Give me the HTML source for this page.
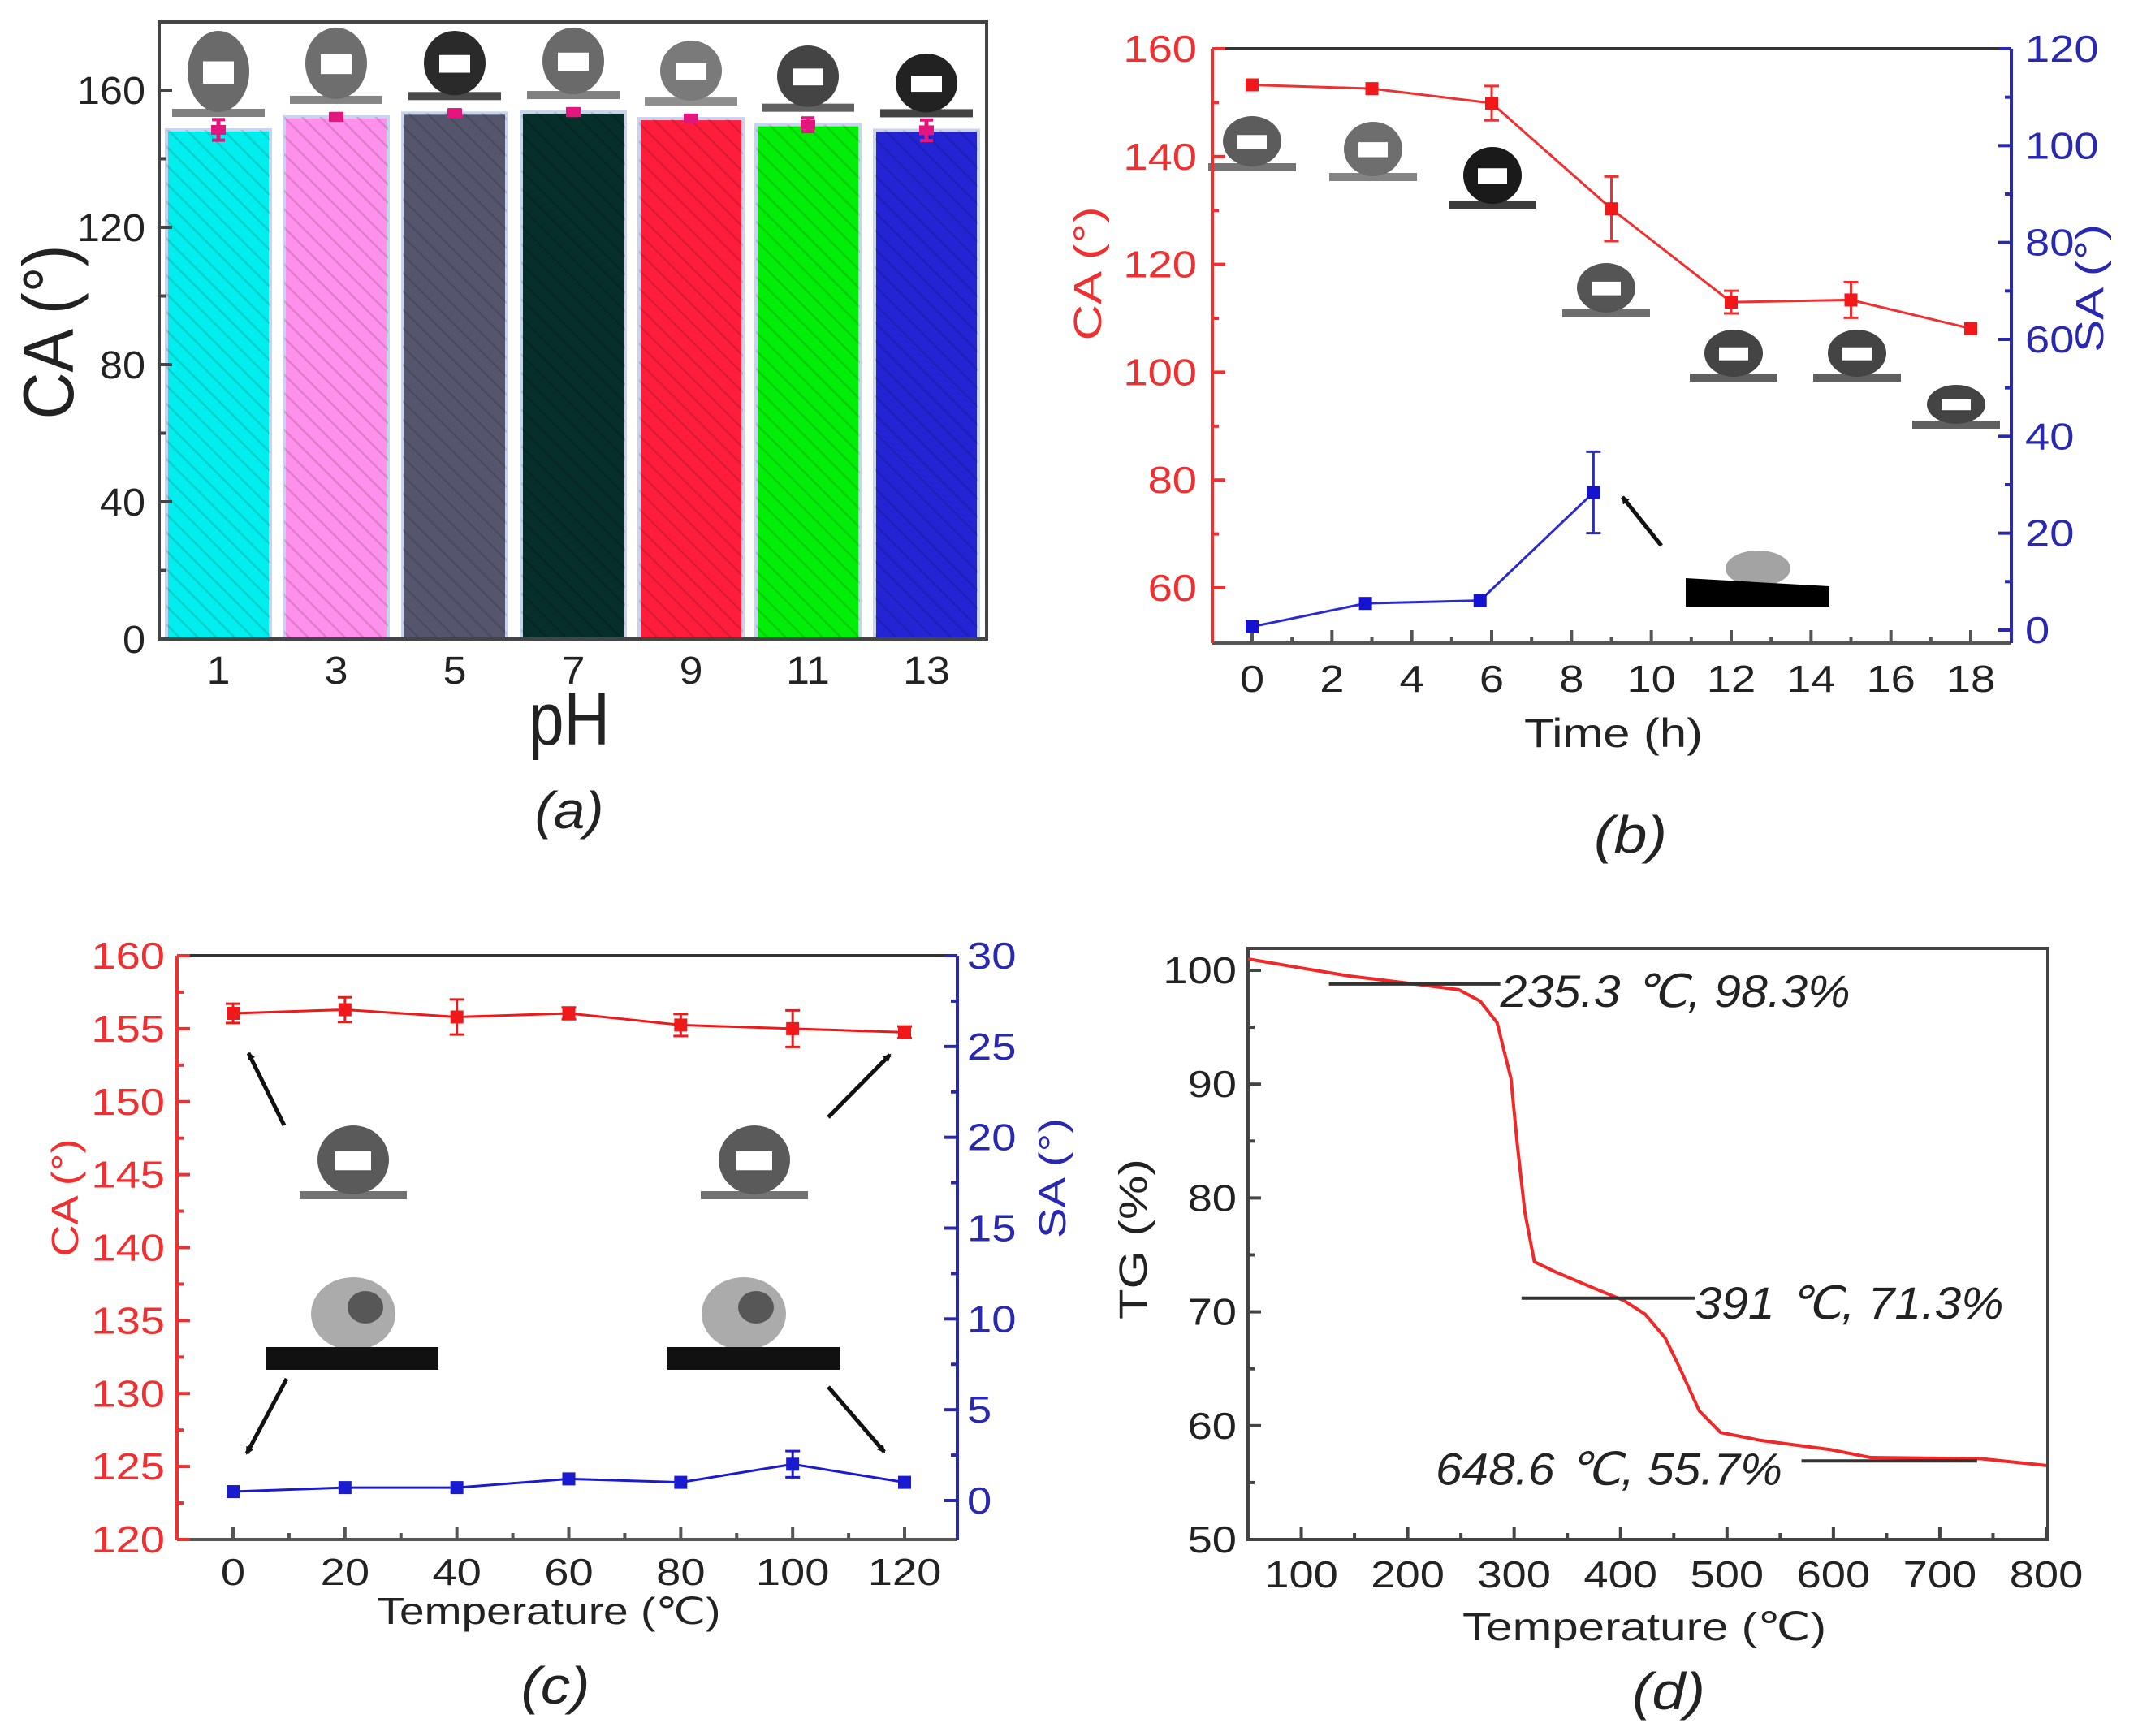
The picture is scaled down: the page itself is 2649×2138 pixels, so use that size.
<!DOCTYPE html>
<html><head><meta charset="utf-8"><style>
html,body{margin:0;padding:0;background:#fff;}
svg{display:block;}
text{font-family:"Liberation Sans",sans-serif;}
</style></head><body>
<svg id="fig" xmlns="http://www.w3.org/2000/svg" width="2649" height="2138" viewBox="0 0 2649 2138">
<defs>
<pattern id="hatch" patternUnits="userSpaceOnUse" width="16" height="16" patternTransform="rotate(-45)">
<rect width="16" height="16" fill="none"/><line x1="0" y1="0" x2="0" y2="16" stroke="rgba(0,0,0,0.13)" stroke-width="5"/>
</pattern>
<marker id="arr" markerWidth="10" markerHeight="10" refX="8" refY="5" orient="auto" markerUnits="userSpaceOnUse" viewBox="0 0 10 10"><path d="M0,0 L10,5 L0,10 z" fill="#111"/></marker>
</defs>
<rect width="2649" height="2138" fill="#fff"/>
</svg>
<script>
// ---------- data ----------
const phCats = ["1","3","5","7","9","11","13"];
const phCA = [148.4,152.2,153.3,153.6,151.7,149.9,148.3];
const phErr = [3,1,1,1,1,2,3];
const phColors = ["#00eeee","#ff90ec","#55566e","#062e2a","#ff1d3c","#00ee08","#2424d4"];
const timeCA_x = [0,3,6,9,12,15,18];
const timeCA = [153.3,152.6,149.9,130.3,113.0,113.4,108.1];
const timeCA_err = [0,0,3.2,6,2.1,3.3,0];
const timeSA_x = [0,2.84,5.71,8.55];
const timeSA = [0.7,5.5,6.1,28.4];
const timeSA_err = [0,0,0,8.4];
const tempX = [0,20,40,60,80,100,120];
const tempCA = [156.05,156.3,155.8,156.05,155.25,155.0,154.75];
const tempCA_err = [0.66,0.85,1.2,0.4,0.75,1.25,0.4];
const tempSA = [0.49,0.71,0.71,1.19,1.0,2.0,1.0];
const tempSA_err = [0,0,0,0,0,0.72,0];
const tgT = [50,100,145,197,248,268,284,297,303,310,319,339,377,403,423,442,455,474,494,532,597,635,739,800];
const tgW = [101.0,100.2,99.5,98.9,98.3,97.3,95.4,90.5,84.7,78.8,74.4,73.5,72.0,71.0,69.8,67.7,65.2,61.3,59.4,58.7,57.9,57.2,57.1,56.5];
const tgAnnot = ["235.3 ℃, 98.3%","391 ℃, 71.3%","648.6 ℃, 55.7%"];

const NS="http://www.w3.org/2000/svg";
const svg=document.getElementById('fig');
function el(tag,attrs,parent){const e=document.createElementNS(NS,tag);for(const k in attrs)e.setAttribute(k,attrs[k]);(parent||svg).appendChild(e);return e;}
function txt(s,x,y,fs,opt,parent){opt=opt||{};
  const t=el('text',{x:x,y:y,'font-size':fs,fill:opt.fill||'#222','text-anchor':opt.anchor||'middle'},parent);
  if(opt.italic)t.setAttribute('font-style','italic');
  if(opt.rot!==undefined)t.setAttribute('transform','rotate('+opt.rot+' '+x+' '+y+')');
  t.textContent=s;
  const nat=t.getComputedTextLength();
  const L=opt.len!==undefined?opt.len:nat*(opt.sx||1.18);
  if(L>0){t.setAttribute('textLength',L);t.setAttribute('lengthAdjust','spacingAndGlyphs');}
  return t;}
function sc(d0,d1,p0,p1){return v=>p0+(v-d0)/(d1-d0)*(p1-p0);}
function drop(g,cx,top,base,w,col){
  const ry=(base-top)/2, rx=w/2;
  el('ellipse',{cx:cx,cy:top+ry,rx:rx,ry:ry,fill:col},g);
  el('rect',{x:cx-rx*0.5,y:top+ry*0.75,width:rx,height:ry*0.55,fill:'#fff'},g);
  el('rect',{x:cx-rx*1.5,y:base-4,width:rx*3,height:10,fill:col,opacity:0.85},g);
}

// =============== PANEL A ===============
(function(){
const g=el('g',{});


const L=196,R=1215,T=27,B=787;
const y=sc(0,160,B,111);
const xc=[269,414,560,706,851,995,1141];
const bw=128;
const drops=["#6a6a6a","#6e6e6e","#2a2a2a","#6a6a6a","#7a7a7a","#444","#222"];
const tops=[38,34,38,34,50,56,66];
phCA.forEach((v,i)=>{
  const r=el('rect',{x:xc[i]-bw/2,y:y(v),width:bw,height:B-y(v),fill:phColors[i],stroke:'#c8d4ee','stroke-width':4},g);
  
  
  el('rect',{x:xc[i]-bw/2,y:y(v),width:bw,height:B-y(v),fill:'url(#hatch)'},g);
  const e1=y(v+phErr[i]),e2=y(v-phErr[i]);
  const eb=el('g',{},g);
  
  
  el('line',{x1:xc[i],y1:e1,x2:xc[i],y2:e2,stroke:'#e3167e','stroke-width':5},eb);
  el('line',{x1:xc[i]-8,y1:e1,x2:xc[i]+8,y2:e1,stroke:'#e3167e','stroke-width':4},eb);
  el('line',{x1:xc[i]-8,y1:e2,x2:xc[i]+8,y2:e2,stroke:'#e3167e','stroke-width':4},eb);
  el('rect',{x:xc[i]-9,y:y(v)-6,width:18,height:12,fill:'#e3167e'},eb);
  const d=el('g',{},g);
  
  
  drop(d,xc[i],tops[i],y(v)-22,76,drops[i]);
  const tl=txt(phCats[i],xc[i],842,48,{sx:1.08},g);
  
  
});
el('rect',{x:L,y:T,width:R-L,height:B-T,fill:'none',stroke:'#444','stroke-width':4},g);
for(let v=0;v<=160;v+=20){const yy=y(v);
  el('line',{x1:L,y1:yy,x2:L+(v%40?9:16),y2:yy,stroke:'#444','stroke-width':4},g);
  if(v%40===0){const t=txt(String(v),179,yy+17,48,{anchor:'end',sx:1.05},g);
    
    }
}
const yt=txt('CA (°)',90,409,88,{rot:-90,len:215},g);


const xt=txt('pH',701,917,92,{len:100},g);


const pl=txt('(a)',701,1020,64,{italic:true,len:85},g);


})();

// =============== PANEL B ===============
(function(){
const g=el('g',{});


const L=1493,R=2477,T=60,B=792;
const x=sc(0,18,1542,2427);
const yl=sc(60,160,724,60);
const yr=sc(0,120,776,60);
const dd=[[1542,143,205,"#5c5c5c"],[1691,150,217,"#6e6e6e"],[1838,181,251,"#1a1a1a"],[1978,324,385,"#555"],[2135,406,464,"#444"],[2287,406,464,"#444"],[2409,474,522,"#444"]];
dd.forEach((d,i)=>{const gg=el('g',{},g);
  
  
  drop(gg,d[0],d[1],d[2],72,d[3]);});
const sl=el('g',{},g);


el('ellipse',{cx:2165,cy:700,rx:40,ry:22,fill:'#666',opacity:0.6},sl);
el('path',{d:'M2076,712 L2253,722 L2253,747 L2076,747 Z',fill:'#000'},sl);
el('line',{x1:L,y1:T,x2:R,y2:T,stroke:'#333','stroke-width':4},g);
el('line',{x1:L,y1:B,x2:R,y2:B,stroke:'#555','stroke-width':4},g);
el('line',{x1:L,y1:T,x2:L,y2:B,stroke:'#f03030','stroke-width':4},g);
el('line',{x1:R,y1:T,x2:R,y2:B,stroke:'#2828b0','stroke-width':4},g);
for(let v=0;v<=18;v++){const xx=x(v);
  el('line',{x1:xx,y1:B,x2:xx,y2:B-(v%2?8:16),stroke:'#555','stroke-width':4},g);
  if(v%2===0){const t=txt(String(v),xx,852,46,{},g);
    
    }}
for(let v=60;v<=160;v+=10){const yy=yl(v);
  el('line',{x1:L,y1:yy,x2:L+(v%20?8:16),y2:yy,stroke:'#f03030','stroke-width':4},g);
  if(v%20===0){const t=txt(String(v),1474,yy+16,46,{anchor:'end',fill:'#f03030'},g);
    
    }}
for(let v=0;v<=120;v+=10){const yy=yr(v);
  el('line',{x1:R,y1:yy,x2:R-(v%20?8:16),y2:yy,stroke:'#2828b0','stroke-width':4},g);
  if(v%20===0){const t=txt(String(v),2494,yy+16,46,{anchor:'start',fill:'#2828b0'},g);
    
    }}
const ca=el('polyline',{points:timeCA.map((v,i)=>x(timeCA_x[i])+','+yl(v)).join(' '),fill:'none',stroke:'#f03030','stroke-width':3},g);


timeCA.forEach((v,i)=>{const xx=x(timeCA_x[i]);
  if(timeCA_err[i]>0){const a=yl(v+timeCA_err[i]),b=yl(v-timeCA_err[i]);
    el('line',{x1:xx,y1:a,x2:xx,y2:b,stroke:'#f03030','stroke-width':3},g);
    el('line',{x1:xx-9,y1:a,x2:xx+9,y2:a,stroke:'#f03030','stroke-width':3},g);
    el('line',{x1:xx-9,y1:b,x2:xx+9,y2:b,stroke:'#f03030','stroke-width':3},g);}
  const m=el('rect',{x:xx-8,y:yl(v)-8,width:16,height:16,fill:'#f01818'},g);
  
  });
const sa=el('polyline',{points:timeSA.map((v,i)=>x(timeSA_x[i])+','+yr(v)).join(' '),fill:'none',stroke:'#2a2ad0','stroke-width':3},g);


timeSA.forEach((v,i)=>{const xx=x(timeSA_x[i]);
  if(timeSA_err[i]>0){const a=yr(v+timeSA_err[i]),b=yr(v-timeSA_err[i]);
    el('line',{x1:xx,y1:a,x2:xx,y2:b,stroke:'#2a2ad0','stroke-width':3},g);
    el('line',{x1:xx-9,y1:a,x2:xx+9,y2:a,stroke:'#2a2ad0','stroke-width':3},g);
    el('line',{x1:xx-9,y1:b,x2:xx+9,y2:b,stroke:'#2a2ad0','stroke-width':3},g);}
  const m=el('rect',{x:xx-8,y:yr(v)-8,width:16,height:16,fill:'#1414d0'},g);
  
  });
const ar=el('line',{x1:2046,y1:672,x2:1998,y2:612,stroke:'#111','stroke-width':5,'marker-end':'url(#arr)'},g);


const t1=txt('CA (°)',1356,337,48,{rot:-90,fill:'#f03030',len:165},g);


const t2=txt('SA (°)',2590,355,48,{rot:-90,fill:'#2828b0',len:158},g);


const t3=txt('Time (h)',1987,920,50,{len:220},g);


const t4=txt('(b)',2008,1050,64,{italic:true,len:90},g);


})();

// =============== PANEL C ===============
(function(){
const g=el('g',{});


const L=218,R=1179,T=1177,B=1896;
const x=sc(0,120,287,1114);
const yl=sc(120,160,1896,1177);
const yr=sc(0,30,1848,1177);
[[435,1386,1471],[929,1386,1471]].forEach((d,i)=>{const gg=el('g',{},g);
  
  
  drop(gg,d[0],d[1],d[2],88,'#5a5a5a');});
[[328,435],[822,916]].forEach((d,i)=>{const gg=el('g',{},g);
  
  
  el('ellipse',{cx:d[1],cy:1618,rx:52,ry:45,fill:'#888',opacity:0.7},gg);
  el('ellipse',{cx:d[1]+15,cy:1610,rx:22,ry:20,fill:'#333',opacity:0.7},gg);
  el('rect',{x:d[0],y:1659,width:212,height:28,fill:'#111'},gg);});
el('line',{x1:L,y1:T,x2:R,y2:T,stroke:'#333','stroke-width':4},g);
el('line',{x1:L,y1:B,x2:R,y2:B,stroke:'#555','stroke-width':4},g);
el('line',{x1:L,y1:T,x2:L,y2:B,stroke:'#f03030','stroke-width':4},g);
el('line',{x1:R,y1:T,x2:R,y2:B,stroke:'#2828b0','stroke-width':4},g);
for(let v=0;v<=120;v+=10){const xx=x(v);
  el('line',{x1:xx,y1:B,x2:xx,y2:B-(v%20?8:16),stroke:'#555','stroke-width':4},g);
  if(v%20===0){const t=txt(String(v),xx,1952,46,{},g);
    
    }}
for(let v=120;v<=160;v+=2.5){const yy=yl(v);
  el('line',{x1:L,y1:yy,x2:L+(v%5?8:16),y2:yy,stroke:'#f03030','stroke-width':4},g);
  if(v%5===0){const t=txt(String(v),203,yy+16,46,{anchor:'end',fill:'#f03030'},g);
    
    }}
for(let v=0;v<=30;v+=2.5){const yy=yr(v);
  el('line',{x1:R,y1:yy,x2:R-(v%5?8:16),y2:yy,stroke:'#2828b0','stroke-width':4},g);
  if(v%5===0){const t=txt(String(v),1191,yy+16,46,{anchor:'start',fill:'#2828b0'},g);
    
    }}
function series(vals,errs,ys,col,nm){
  const p=el('polyline',{points:vals.map((v,i)=>x(tempX[i])+','+ys(v)).join(' '),fill:'none',stroke:col,'stroke-width':3},g);
  
  
  vals.forEach((v,i)=>{const xx=x(tempX[i]);
    if(errs[i]>0){const a=ys(v+errs[i]),b=ys(v-errs[i]);
      el('line',{x1:xx,y1:a,x2:xx,y2:b,stroke:col,'stroke-width':3},g);
      el('line',{x1:xx-9,y1:a,x2:xx+9,y2:a,stroke:col,'stroke-width':3},g);
      el('line',{x1:xx-9,y1:b,x2:xx+9,y2:b,stroke:col,'stroke-width':3},g);}
    const m=el('rect',{x:xx-8,y:ys(v)-8,width:16,height:16,fill:col},g);
    
    });}
series(tempCA,tempCA_err,yl,'#f01818','ca');
series(tempSA,tempSA_err,yr,'#1a1ad0','sa');
[[350,1386,306,1297],[1020,1376,1096,1299],[353,1698,304,1790],[1020,1708,1089,1788]].forEach(a=>{
  const l=el('line',{x1:a[0],y1:a[1],x2:a[2],y2:a[3],stroke:'#111','stroke-width':5,'marker-end':'url(#arr)'},g);
  
  });
const t1=txt('CA (°)',96,1475,46,{rot:-90,fill:'#f03030',len:145},g);


const t2=txt('SA (°)',1312,1451,46,{rot:-90,fill:'#2828b0',len:148},g);


const t3=txt('Temperature (℃)',676,2000,46,{len:423},g);


const t4=txt('(c)',684,2098,64,{italic:true,len:85},g);


})();

// =============== PANEL D ===============
(function(){
const g=el('g',{});


const L=1537,R=2522,T=1168,B=1896;
const x=sc(50,800,1537,2520);
const y=sc(50,100,1896,1195);
el('rect',{x:L,y:T,width:R-L,height:B-T,fill:'none',stroke:'#444','stroke-width':4},g);
for(let v=50;v<=800;v+=50){const xx=x(v);
  el('line',{x1:xx,y1:B,x2:xx,y2:B-(v%100?8:16),stroke:'#444','stroke-width':4},g);
  if(v%100===0){const t=txt(String(v),xx,1955,46,{},g);
    
    }}
for(let v=50;v<=100;v+=5){const yy=y(v);
  el('line',{x1:L,y1:yy,x2:L+(v%10?8:16),y2:yy,stroke:'#444','stroke-width':4},g);
  if(v%10===0){const t=txt(String(v),1523,yy+16,46,{anchor:'end'},g);
    
    }}
const c=el('polyline',{points:tgT.map((t,i)=>x(t)+','+y(tgW[i])).join(' '),fill:'none',stroke:'#f02828','stroke-width':4,'stroke-linejoin':'round'},g);


const ann=[[126,287,98.8,287,96.8,'start'],[307,470,71.2,470,69.4,'start'],[570,735,56.9,552,54.8,'end']];
const lens=[431,380,427];
ann.forEach((a,i)=>{
  const l=el('line',{x1:x(a[0]),y1:y(a[2]),x2:x(a[1]),y2:y(a[2]),stroke:'#333','stroke-width':4},g);
  
  
  const t=txt(tgAnnot[i],x(a[3]),y(a[4]),56,{italic:true,anchor:a[5],len:lens[i]},g);
  
  });
const t1=txt('TG (%)',1412,1526,48,{rot:-90,len:198},g);


const t3=txt('Temperature (℃)',2025,2020,48,{len:448},g);


const t4=txt('(d)',2055,2105,64,{italic:true,len:90},g);


})();
</script>
</body></html>
